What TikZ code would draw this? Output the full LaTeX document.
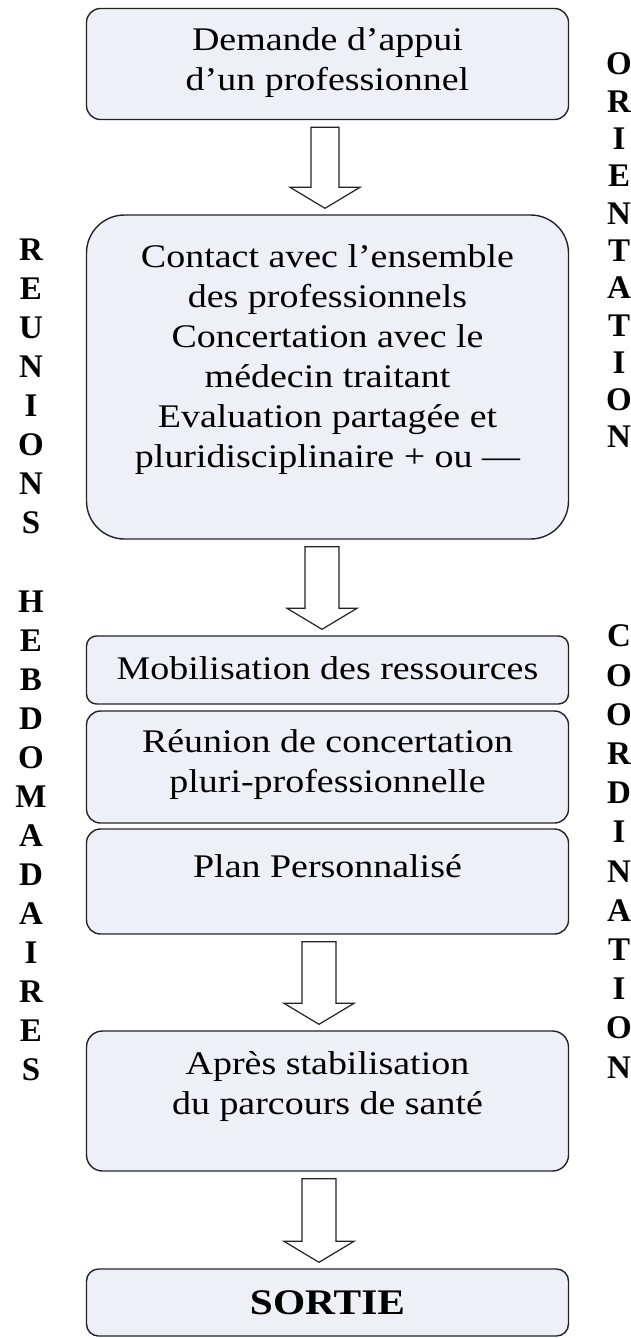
\documentclass[tikz,border=0pt]{standalone}
\usepackage{fontspec}
\setmainfont{Liberation Serif}[FakeStretch=1.15]
\newfontfamily\colonnefont{Liberation Serif}
\usepackage{tikz}
\usetikzlibrary{calc}
\definecolor{fondboite}{RGB}{237,240,246}
\definecolor{trait}{RGB}{35,35,35}

% fleche creuse entre deux boites : de, vers, decalage x, demi-largeur du fut
\newcommand{\flechebloc}[4]{%
  \draw[fleche] ($(#1.south)+(#3-#4,7)$) -- ($(#1.south)+(#3+#4,7)$)
    -- ($(#2.north)+(#3+#4,-27)$) -- ($(#2.north)+(#3+35,-27)$)
    -- ($(#2.north)+(#3,-6)$) -- ($(#2.north)+(#3-35,-27)$)
    -- ($(#2.north)+(#3-#4,-27)$) -- cycle;}

\begin{document}
\begin{tikzpicture}[x=1pt,y=-1pt,
  boite/.style={draw=trait, line width=1.4, fill=fondboite, minimum width=482, inner sep=0},
  texte/.style={align=center, font=\fontsize{33}{40}\selectfont},
  colonne/.style={align=center, font=\colonnefont\bfseries\fontsize{33}{#1}\selectfont},
  colonne/.default=39,
  fleche/.style={draw=trait, line width=1.2, fill=white}]
			\useasboundingbox[fill=white] (0,0) rectangle (631,1338);
			% Boites
			\node[boite, rounded corners=14, minimum height=111] (demande) at (327.5,64) {};
			\node[boite, rounded corners=38, minimum height=324] (contact) at (327.5,377) {};
			\node[boite, rounded corners=10, minimum height=68] (mobilisation) at (327.5,670) {};
			\node[boite, rounded corners=14, minimum height=112] (reunion) at (327.5,767) {};
			\node[boite, rounded corners=14, minimum height=105] (plan) at (327.5,881.5) {};
			\node[boite, rounded corners=16, minimum height=140] (apres) at (327.5,1101) {};
			\node[boite, rounded corners=12, minimum height=67] (sortie) at (327.5,1302.5) {};
			
			% Textes
			\node[texte] (tdemande) at (327.5,63) {Demande d’appui\\d’un professionnel};
			\node[texte] (tcontact) at (327.5,360) {Contact avec l’ensemble\\des professionnels\\Concertation avec le\\médecin traitant\\Evaluation partagée et\\pluridisciplinaire + ou —};
			\node[texte] (tmobilisation) at (327.5,668) {Mobilisation des ressources};
			\node[texte] (treunion) at (327.5,765) {Réunion de concertation\\pluri-professionnelle};
			\node[texte] (tplan) at (327.5,866) {Plan Personnalisé};
			\node[texte] (tapres) at (327.5,1087) {Après stabilisation\\du parcours de santé};
			\node[texte, font=\bfseries\fontsize{36}{40}\selectfont] (tsortie) at (327.5,1303) {SORTIE};
			
			% Fleches
			\flechebloc{demande}{contact}{-2.5}{14}
			\flechebloc{contact}{mobilisation}{-5.5}{17}
			\flechebloc{plan}{apres}{-8.5}{17}
			\flechebloc{apres}{sortie}{-8.5}{17}
			
			% Colonnes de lettres
			\node[colonne] (reunions) at (31,386.5) {R\\E\\U\\N\\I\\O\\N\\S};
			\node[colonne] (hebdo) at (31,836) {H\\E\\B\\D\\O\\M\\A\\D\\A\\I\\R\\E\\S};
			\node[colonne=37.3] (orientation) at (619,250.5) {O\\R\\I\\E\\N\\T\\A\\T\\I\\O\\N};
			\node[colonne=39.2] (coordination) at (619,851.5) {C\\O\\O\\R\\D\\I\\N\\A\\T\\I\\O\\N};
		\end{tikzpicture}
\end{document}
